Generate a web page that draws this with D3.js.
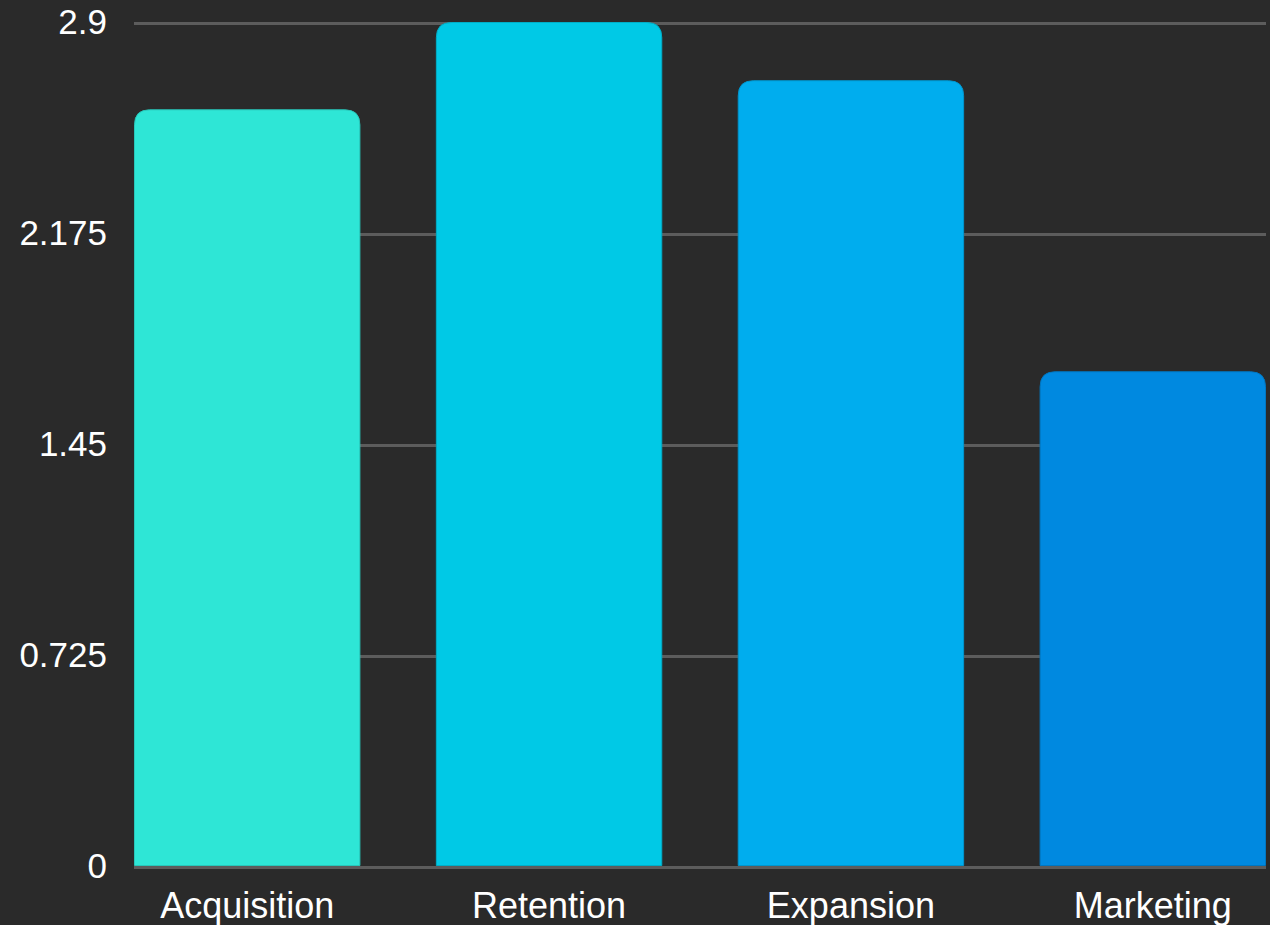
<!DOCTYPE html>
<html>
<head>
<meta charset="utf-8">
<script src="https://cdn.jsdelivr.net/npm/d3@7"></script>
<style>
html,body{margin:0;padding:0;background:#2a2a2a;}
svg{display:block;}
</style>
</head>
<body>
<svg id="chart" width="1270" height="925"></svg>
<script>
const categories = ["Acquisition", "Retention", "Expansion", "Marketing"];
const values = [2.6, 2.9, 2.7, 1.7];
const barColors = ["#2ee6d6", "#00c9e6", "#00adee", "#0089e0"];
const yTicks = [0, 0.725, 1.45, 2.175, 2.9];
const yTickLabels = ["0", "0.725", "1.45", "2.175", "2.9"];

const W = 1270, H = 925;
const margin = {left: 134, right: 4, top: 22, bottom: 59};
const svg = d3.select("#chart");

const x = d3.scaleBand().domain(categories)
  .range([margin.left, W - margin.right])
  .paddingInner(0.25).paddingOuter(0);
const y = d3.scaleLinear().domain([0, 2.9]).range([H - margin.bottom, margin.top]);

// grid
svg.append("g").selectAll("line").data(yTicks).join("line")
  .attr("x1", margin.left).attr("x2", W - margin.right)
  .attr("y1", d => y(d) + 1.5).attr("y2", d => y(d) + 1.5)
  .attr("stroke", "#5c5c5c").attr("stroke-width", 3);

// y labels
svg.append("g").selectAll("text").data(yTicks).join("text")
  .attr("x", 107).attr("y", d => y(d)).attr("dy", "0.35em")
  .attr("text-anchor", "end")
  .attr("fill", "#ffffff")
  .attr("font-family", "'Liberation Sans', Arial, sans-serif")
  .attr("font-size", 35)
  .text((d, i) => yTickLabels[i]);

// bars with rounded top corners
const r = 15;
function barPath(x0, y0, w, h) {
  const rr = Math.min(r, h, w / 2);
  return `M${x0},${y0 + h}V${y0 + rr}Q${x0},${y0} ${x0 + rr},${y0}H${x0 + w - rr}Q${x0 + w},${y0} ${x0 + w},${y0 + rr}V${y0 + h}Z`;
}
svg.append("g").selectAll("path").data(categories).join("path")
  .attr("d", (c, i) => barPath(x(c) + 0.5, y(values[i]) + 0.5, x.bandwidth() - 1, y(0) - y(values[i]) - 1))
  .attr("fill", (c, i) => barColors[i])
  .attr("stroke", (c, i) => d3.color(barColors[i]).darker(0.4))
  .attr("stroke-width", 1);

// baseline
svg.append("line")
  .attr("x1", margin.left).attr("x2", W - margin.right)
  .attr("y1", y(0) + 1.5).attr("y2", y(0) + 1.5)
  .attr("stroke", "#5c5c5c").attr("stroke-width", 3);

// x labels
svg.append("g").selectAll("text").data(categories).join("text")
  .attr("x", c => x(c) + x.bandwidth() / 2)
  .attr("y", H - 7)
  .attr("text-anchor", "middle")
  .attr("fill", "#ffffff")
  .attr("font-family", "'Liberation Sans', Arial, sans-serif")
  .attr("font-size", 36)
  .text(c => c);
</script>
</body>
</html>
